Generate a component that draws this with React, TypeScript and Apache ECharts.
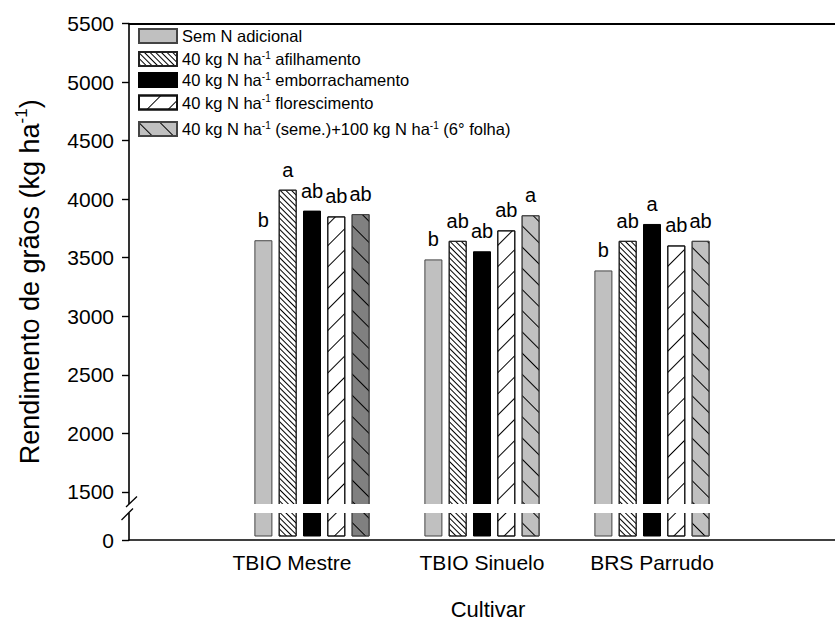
import React, { useEffect, useRef } from 'react';
import * as echarts from 'echarts';

const CULTIVARS = ['TBIO Mestre', 'TBIO Sinuelo', 'BRS Parrudo'];
const TREATMENTS = [
  'Sem N adicional',
  '40 kg N ha-1 afilhamento',
  '40 kg N ha-1 emborrachamento',
  '40 kg N ha-1 florescimento',
  '40 kg N ha-1 (seme.)+100 kg N ha-1 (6° folha)',
];
const SEM_N = [3635, 3470, 3375];
const AFILHAMENTO = [4070, 3630, 3630];
const EMBORRACHAMENTO = [3890, 3540, 3775];
const FLORESCIMENTO = [3840, 3720, 3590];
const SEME_FOLHA = [3860, 3850, 3630];
const LETTERS_SEM_N = ['b', 'b', 'b'];
const LETTERS_AFILHAMENTO = ['a', 'ab', 'ab'];
const LETTERS_EMBORRACHAMENTO = ['ab', 'ab', 'a'];
const LETTERS_FLORESCIMENTO = ['ab', 'ab', 'ab'];
const LETTERS_SEME_FOLHA = ['ab', 'a', 'ab'];
const Y_TICKS = [1500, 2000, 2500, 3000, 3500, 4000, 4500, 5000, 5500];
const Y_MAX = 5500;
// axis value standing for "0" below the axis break
const Y_ZERO_AT = 1090;
const BREAK_LOW = 1321;
const BREAK_HIGH = 1398;

const FONT = 'Liberation Sans, Arial, Helvetica, sans-serif';

const supFmt = (s: string) => s.replace(/ha-1/g, 'ha{sup|-1}');

export default function App() {
  const ref = useRef<HTMLDivElement>(null);
  useEffect(() => {
    if (!ref.current) return;
    const chart = echarts.init(ref.current, undefined, { renderer: 'svg' });

    const denseBack = { symbol: 'rect', symbolSize: 1, dashArrayX: [1, 0], dashArrayY: [1, 3], rotation: Math.PI / 4, color: '#000' };
    const sparseFwd = { symbol: 'rect', symbolSize: 1, dashArrayX: [1, 0], dashArrayY: [1, 14], rotation: -Math.PI / 4, color: '#000' };
    const sparseBack = { symbol: 'rect', symbolSize: 1, dashArrayX: [1, 0], dashArrayY: [1, 14], rotation: Math.PI / 4, color: '#000' };

    const styles = [
      { color: '#c0c0c0', borderColor: '#444', borderWidth: 1 },
      { color: '#fff', borderColor: '#222', borderWidth: 1, decal: denseBack },
      { color: '#000', borderColor: '#000', borderWidth: 1 },
      { color: '#fff', borderColor: '#111', borderWidth: 1, decal: sparseFwd },
      { color: '#c0c0c0', borderColor: '#444', borderWidth: 1, decal: sparseBack },
    ];
    const values = [SEM_N, AFILHAMENTO, EMBORRACHAMENTO, FLORESCIMENTO, SEME_FOLHA];
    const letters = [LETTERS_SEM_N, LETTERS_AFILHAMENTO, LETTERS_EMBORRACHAMENTO, LETTERS_FLORESCIMENTO, LETTERS_SEME_FOLHA];

    const barSeries = TREATMENTS.map((name, i) => ({
      type: 'bar',
      name,
      xAxisIndex: 2,
      yAxisIndex: 1,
      barWidth: 18,
      barGap: '35%',
      itemStyle: styles[i],
      data: values[i].map((v, j) =>
        i === 4 && j === 0 ? { value: v, itemStyle: { color: '#808080' } } : v
      ),
      label: {
        show: true,
        position: 'top',
        distance: 10,
        fontSize: 20,
        color: '#000',
        fontFamily: FONT,
        formatter: (p: any) => letters[i][p.dataIndex],
      },
      z: 2,
    }));

    const legendTops = [27, 50, 71, 93.5, 120];
    const legends = TREATMENTS.map((name, i) => ({
      data: [name],
      left: 138,
      top: legendTops[i],
      padding: 0,
      icon: 'rect',
      itemWidth: 38,
      itemHeight: 14,
      selectedMode: false,
      formatter: supFmt,
      textStyle: {
        fontSize: 16.5,
        lineHeight: 18,
        color: '#000',
        fontFamily: FONT,
        rich: { sup: { fontSize: 10, lineHeight: 10, verticalAlign: 'top', color: '#000', fontFamily: FONT } },
      },
    }));

    const option: any = {
      animation: false,
      textStyle: { fontFamily: FONT },
      legend: legends,
      grid: [
        { left: 129, right: -20, top: 23.5, bottom: 85, containLabel: false },
        { left: 227, width: 510, top: 23.5, bottom: 85, containLabel: false },
      ],
      xAxis: [
        {
          gridIndex: 0, type: 'value', min: 0, max: 1, position: 'bottom',
          axisLine: { show: true, onZero: false, lineStyle: { color: '#000', width: 1.6 } },
          axisTick: { show: false }, axisLabel: { show: false }, splitLine: { show: false },
        },
        {
          gridIndex: 0, type: 'value', min: 0, max: 1, position: 'top',
          axisLine: { show: true, onZero: false, lineStyle: { color: '#000', width: 1.8 } },
          axisTick: { show: false }, axisLabel: { show: false }, splitLine: { show: false },
        },
        {
          gridIndex: 1, type: 'category',
          data: CULTIVARS.map((c, i) => (i === 0 ? { value: c, textStyle: { padding: [0, 40, 0, 0] } } : c)),
          axisLine: { show: false }, axisTick: { show: false },
          axisLabel: { fontSize: 21, color: '#000', margin: 16, fontFamily: FONT },
          name: 'Cultivar', nameLocation: 'middle', nameGap: 62,
          nameTextStyle: { fontSize: 22, color: '#000', padding: [0, 0, 0, 12], fontFamily: FONT },
        },
      ],
      yAxis: [
        {
          gridIndex: 0, type: 'value', min: Y_ZERO_AT, max: Y_MAX,
          axisLine: { show: true, onZero: false, lineStyle: { color: '#000', width: 1.6 } },
          axisTick: { show: true, inside: false, length: 7, customValues: [Y_ZERO_AT, ...Y_TICKS], lineStyle: { color: '#000', width: 1.4 } },
          axisLabel: {
            show: true, margin: 15, fontSize: 21, color: '#000', fontFamily: FONT,
            customValues: [Y_ZERO_AT, ...Y_TICKS],
            formatter: (v: number) => (v === Y_ZERO_AT ? '0' : String(v)),
          },
          splitLine: { show: false },
          name: 'Rendimento de grãos (kg ha{sup|-1})',
          nameLocation: 'middle', nameGap: 83, nameRotate: 90,
          nameTextStyle: {
            fontSize: 27, lineHeight: 33, color: '#000', fontFamily: FONT,
            rich: { sup: { fontSize: 17, lineHeight: 17, verticalAlign: 'top', color: '#000', fontFamily: FONT } },
          },
        },
        {
          gridIndex: 1, type: 'value', min: Y_ZERO_AT, max: Y_MAX, show: false,
          splitLine: { show: false },
        },
      ],
      series: [
        ...barSeries,
        {
          type: 'custom',
          xAxisIndex: 0,
          yAxisIndex: 0,
          z: 10,
          silent: true,
          data: [[0.5, 3000]],
          renderItem: (params: any, api: any) => {
            const cs = params.coordSys;
            const yHigh = api.coord([0, BREAK_HIGH])[1];
            const yLow = api.coord([0, BREAK_LOW])[1];
            const ax = cs.x;
            return {
              type: 'group',
              children: [
                { type: 'rect', shape: { x: ax - 4, y: yHigh, width: cs.width + 8, height: yLow - yHigh }, style: { fill: '#fff' } },
                { type: 'line', shape: { x1: ax - 3, y1: yHigh + 3, x2: ax + 8, y2: yHigh - 7.5 }, style: { stroke: '#000', lineWidth: 1.3 } },
                { type: 'line', shape: { x1: ax - 7.5, y1: yLow + 7, x2: ax + 4, y2: yLow - 4.5 }, style: { stroke: '#000', lineWidth: 1.3 } },
              ],
            };
          },
        },
      ],
    };
    chart.setOption(option);
    return () => chart.dispose();
  }, []);
  return <div ref={ref} style={{ position: 'absolute', left: 0, top: 0, width: 835, height: 625, background: '#fff' }} />;
}
